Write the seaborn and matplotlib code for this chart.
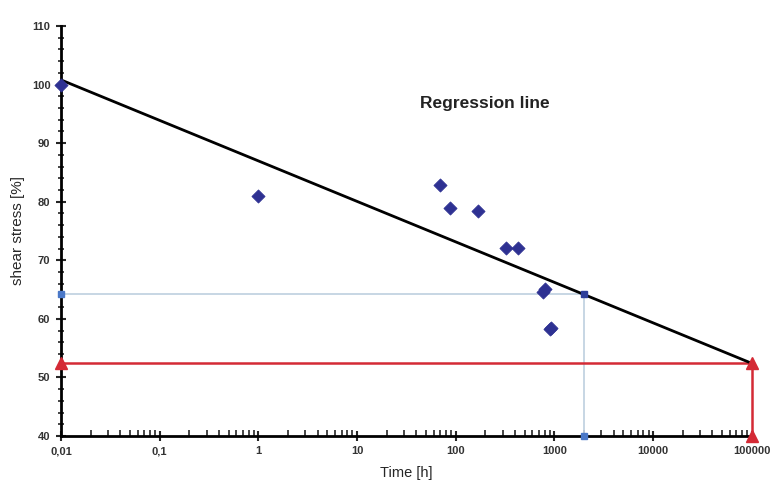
import numpy as np
import pandas as pd
import seaborn as sns
from matplotlib import pyplot as plt
from matplotlib.ticker import FixedLocator, LogLocator, NullFormatter, MultipleLocator

# measured points (time in hours, shear stress in %)
time_h = [0.01, 1, 69, 87, 167, 322, 430, 770, 800, 900, 930]
stress = [100.0, 81.0, 82.9, 79.0, 78.4, 72.1, 72.1, 64.5, 65.1, 58.3, 58.4]

# regression line end points
reg_time = [0.01, 100000]
reg_stress = [100.8, 52.4]

# read-off lines
blue_time = [0.01, 2000, 2000]
blue_stress = [64.3, 64.3, 40]
red_time = [0.01, 100000, 100000]
red_stress = [52.5, 52.5, 40]

x_ticks = [0.01, 0.1, 1, 10, 100, 1000, 10000, 100000]
x_labels = ['0,01', '0,1', '1', '10', '100', '1000', '10000', '100000']
y_ticks = [40, 50, 60, 70, 80, 90, 100, 110]

sns.set_style('ticks')
plt.rcParams['font.family'] = ['Liberation Sans', 'DejaVu Sans']

fig = plt.figure(figsize=(7.71, 4.86), dpi=100)
ax = fig.add_axes([0.079, 0.103, 0.896, 0.8435])

df_pts = pd.DataFrame({'Time': time_h, 'Stress': stress})
df_reg = pd.DataFrame({'Time': reg_time, 'Stress': reg_stress})

# light blue read-off line
ax.plot(blue_time, blue_stress, color='#c3d3e2', linewidth=1.3, zorder=1, clip_on=False)
ax.plot([blue_time[0], blue_time[2]], [blue_stress[0], blue_stress[2]], linestyle='none',
        marker='s', markersize=5, color='#4a78c8', clip_on=False, zorder=4)
ax.plot([blue_time[1]], [blue_stress[1]], linestyle='none', marker='s', markersize=5,
        color='#2f3f9a', clip_on=False, zorder=4)

# regression line
sns.lineplot(data=df_reg, x='Time', y='Stress', color='black', linewidth=2, ax=ax, zorder=3)

# red read-off line
ax.plot(red_time, red_stress, color='#d42a35', linewidth=1.8, zorder=2, clip_on=False)
ax.plot(red_time, red_stress, linestyle='none', marker='^', markersize=8,
        color='#d42a35', clip_on=False, zorder=5)

# measured data
sns.scatterplot(data=df_pts, x='Time', y='Stress', marker='D', s=45, color='#2e3192',
                edgecolor='#2e3192', ax=ax, zorder=6, clip_on=False)

ax.set_xscale('log')
ax.set_xlim(0.01, 100000)
ax.set_ylim(40, 110)
ax.xaxis.set_major_locator(FixedLocator(x_ticks))
ax.set_xticklabels(x_labels)
ax.xaxis.set_minor_locator(LogLocator(base=10, subs=np.arange(2, 10), numticks=20))
ax.xaxis.set_minor_formatter(NullFormatter())
ax.set_yticks(y_ticks)
ax.yaxis.set_minor_locator(MultipleLocator(2))

sns.despine(ax=ax)
for s in ['left', 'bottom']:
    ax.spines[s].set_linewidth(2)
    ax.spines[s].set_color('black')
ax.tick_params(axis='both', which='major', direction='inout', length=7, width=1.5,
               labelsize=8, pad=4)
ax.tick_params(axis='x', which='minor', direction='in', length=4, width=1.2)
ax.tick_params(axis='y', which='minor', direction='inout', length=4, width=1.2)
for lbl in ax.get_xticklabels() + ax.get_yticklabels():
    lbl.set_fontweight('bold')
    lbl.set_color('#333333')

ax.set_xlabel('Time [h]', fontsize=10.5, labelpad=7)
ax.set_ylabel('shear stress [%]', fontsize=11, labelpad=5)
ax.text(0.614, 0.81, 'Regression line', transform=ax.transAxes, fontsize=12.5,
        fontweight='bold', ha='center', va='center', color='#222222')

fig.savefig('out.png', dpi=100)
